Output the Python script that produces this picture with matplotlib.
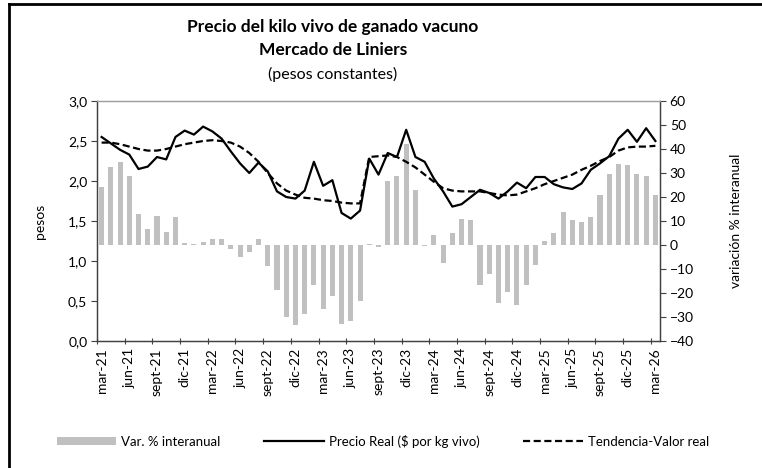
import matplotlib
matplotlib.use("Agg")
import matplotlib.pyplot as plt
from matplotlib.lines import Line2D
from matplotlib.patches import Patch
from matplotlib.ticker import FuncFormatter, FixedLocator

plt.rcParams['font.family'] = ['Lato', 'DejaVu Sans']

# ---- data ----
tick_labels = ['mar-21', 'jun-21', 'sept-21', 'dic-21', 'mar-22', 'jun-22', 'sept-22',
               'dic-22', 'mar-23', 'jun-23', 'sept-23', 'dic-23', 'mar-24', 'jun-24',
               'sept-24', 'dic-24', 'mar-25', 'jun-25', 'sept-25', 'dic-25', 'mar-26']

var_pct = [24.3, 32.6, 34.4, 28.7, 12.9, 6.7, 11.9, 5.3, 11.5, 0.8,
           0.3, 1.4, 2.4, 2.4, -1.5, -4.9, -3.1, 2.4, -8.8, -18.8,
           -30.1, -33.2, -28.6, -16.8, -26.7, -21.4, -32.9, -31.5, -23.3, 0.3,
           -0.7, 26.5, 28.9, 42.0, 22.8, -0.3, 4.2, -7.6, 5.1, 10.8,
           10.4, -16.5, -12.1, -24.3, -19.6, -24.9, -16.8, -8.2, 1.8, 5.1,
           13.8, 10.4, 9.4, 11.8, 21.0, 29.6, 33.8, 33.3, 29.4, 28.6,
           21.0]

precio_real = [2.55, 2.47, 2.39, 2.33, 2.15, 2.18, 2.30, 2.27, 2.55, 2.63,
               2.58, 2.68, 2.62, 2.53, 2.37, 2.22, 2.10, 2.23, 2.12, 1.87,
               1.80, 1.78, 1.88, 2.24, 1.94, 2.01, 1.60, 1.53, 1.63, 2.28,
               2.08, 2.35, 2.30, 2.64, 2.30, 2.24, 2.03, 1.87, 1.68, 1.71,
               1.80, 1.89, 1.85, 1.78, 1.87, 1.98, 1.91, 2.05, 2.05, 1.96,
               1.92, 1.90, 1.97, 2.14, 2.22, 2.31, 2.53, 2.64, 2.49, 2.66,
               2.50]

tendencia = [2.48, 2.48, 2.46, 2.43, 2.40, 2.38, 2.38, 2.40, 2.43, 2.46,
             2.48, 2.50, 2.51, 2.50, 2.48, 2.43, 2.35, 2.24, 2.10, 1.97,
             1.88, 1.83, 1.79, 1.78, 1.76, 1.75, 1.73, 1.72, 1.72, 2.30,
             2.31, 2.32, 2.30, 2.24, 2.17, 2.08, 1.99, 1.91, 1.88, 1.87,
             1.87, 1.87, 1.85, 1.83, 1.82, 1.83, 1.87, 1.91, 1.96, 2.00,
             2.04, 2.08, 2.14, 2.19, 2.25, 2.30, 2.38, 2.42, 2.43, 2.43,
             2.44]

n = len(precio_real)
x = list(range(n))

fig = plt.figure(figsize=(7.62, 4.68), dpi=100)
ax = fig.add_axes([97/762, 1-341/468, (660-97)/762, 240/468])
ax2 = ax.twinx()

# bars on secondary axis, drawn behind lines
ax2.bar(x, var_pct, width=0.55, color='#c0c0c0', zorder=1)
ax2.set_ylim(-40, 60)
ax2.set_yticks(range(-40, 61, 10))
ax.set_zorder(ax2.get_zorder() + 1)
ax.patch.set_visible(False)

ax.plot(x, precio_real, color='black', lw=1.6, zorder=3)
ax.plot(x, tendencia, color='black', lw=1.6, ls=(0, (3.2, 1.6)), zorder=3)
ax.set_ylim(0, 3)
ax.set_yticks([0, 0.5, 1, 1.5, 2, 2.5, 3])
ax.yaxis.set_major_formatter(FuncFormatter(lambda v, p: f"{v:.1f}".replace('.', ',')))
ax.set_xlim(-0.5, n - 0.5)

# labels at category centres, tick marks at category boundaries
lab_pos = list(range(0, n, 3))
ax.xaxis.set_major_locator(FixedLocator(lab_pos))
ax.set_xticklabels(tick_labels, rotation=90, fontsize=10)
ax.tick_params(axis='x', which='major', length=0, pad=5)
ax.xaxis.set_minor_locator(FixedLocator([p - 0.5 for p in lab_pos]))
ax.tick_params(axis='x', which='minor', length=4, direction='inout', width=0.8, color='#404040')

ax.tick_params(axis='y', labelsize=10, length=4, width=0.8, color='#404040', pad=3)
ax2.tick_params(axis='y', labelsize=10, length=4, width=0.8, color='#404040', pad=3)

for a in (ax, ax2):
    for s in ['left', 'right', 'bottom']:
        a.spines[s].set_color('#404040')
        a.spines[s].set_linewidth(0.9)
    a.spines['top'].set_color('#a0a0a0')
    a.spines['top'].set_linewidth(0.9)

ax.set_ylabel('pesos', fontsize=10, labelpad=16)
ax2.set_ylabel('variación % interanual', fontsize=10, labelpad=26)

# title
fig.text(333/762, 1-27/468, 'Precio del kilo vivo de ganado vacuno', ha='center', va='center',
         fontsize=12.5, fontweight='bold')
fig.text(333/762, 1-50/468, 'Mercado de Liniers', ha='center', va='center',
         fontsize=12.5, fontweight='bold')
fig.text(333/762, 1-74/468, '(pesos constantes)', ha='center', va='center', fontsize=11.5)

# legend
handles = [Patch(facecolor='#c0c0c0', edgecolor='none'),
           Line2D([], [], color='black', lw=1.6),
           Line2D([], [], color='black', lw=1.6, ls=(0, (3.2, 1.6)))]
labels = ['Var. % interanual', 'Precio Real ($ por kg vivo)', 'Tendencia-Valor real']
fig.legend(handles, labels, loc='center', bbox_to_anchor=(383/762, 1-441/468), ncol=3,
           frameon=False, fontsize=9.5, handlelength=4.5, handleheight=0.6,
           columnspacing=3.3, handletextpad=0.4)

# outer frame (left and top edges)
fig.add_artist(Line2D([9/762, 9/762], [0, 1-4/468], color='black', lw=2, transform=fig.transFigure))
fig.add_artist(Line2D([9/762, 1], [1-4/468, 1-4/468], color='black', lw=2, transform=fig.transFigure))

fig.savefig('out.png', dpi=100)
